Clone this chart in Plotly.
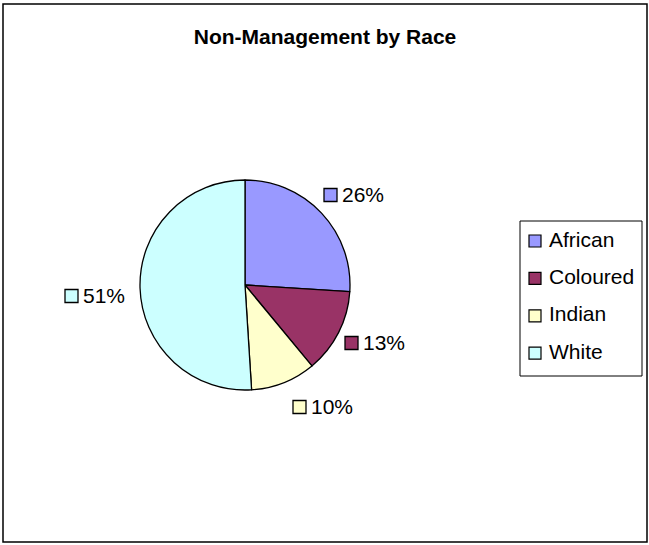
import plotly.graph_objects as go

# ---- data ----
categories = ["African", "Coloured", "Indian", "White"]
values = [26, 13, 10, 51]
colors = ["#9999FF", "#993366", "#FFFFCC", "#CCFFFF"]
title_text = "Non-Management by Race"

# ---- layout helpers (pixel -> paper) ----
W, H = 649, 545
def px(x):
    return x / W
def py(y):
    return 1 - y / H

FONT = "Liberation Sans, Arial, sans-serif"

# pie geometry
cx, cy, r = 245, 285, 105

fig = go.Figure()
fig.add_trace(go.Pie(
    labels=categories,
    values=values,
    sort=False,
    direction="clockwise",
    rotation=0,
    marker=dict(colors=colors, line=dict(color="black", width=1.3)),
    textinfo="none",
    hoverinfo="label+percent",
    showlegend=False,
    domain=dict(x=[px(cx - r), px(cx + r)], y=[py(cy + r), py(cy - r)]),
))

shapes = []
annotations = []

# outer chart border
shapes.append(dict(type="rect", xref="paper", yref="paper",
                   x0=px(3), x1=px(647), y0=py(542), y1=py(4),
                   line=dict(color="black", width=1.5)))

# data labels (square key + percent), label anchor positions are styling
total = sum(values)
label_pos = [(324, 195), (345, 343), (293, 407), (65, 296)]
sq = 13
for cat, v, col, (lx, ly) in zip(categories, values, colors, label_pos):
    pct = round(v / total * 100)
    shapes.append(dict(type="rect", xref="paper", yref="paper",
                       x0=px(lx), x1=px(lx + sq), y0=py(ly + sq / 2), y1=py(ly - sq / 2),
                       fillcolor=col, line=dict(color="black", width=1.3)))
    annotations.append(dict(xref="paper", yref="paper", x=px(lx + sq + 3), y=py(ly - 1),
                            xanchor="left", yanchor="middle", showarrow=False,
                            text=f"{pct}%", font=dict(family=FONT, size=21, color="black")))

# legend box
shapes.append(dict(type="rect", xref="paper", yref="paper",
                   x0=px(520), x1=px(642), y0=py(376), y1=py(221),
                   line=dict(color="black", width=1)))
lsq = 12
for i, (cat, col) in enumerate(zip(categories, colors)):
    yy = 241 + i * 37.4
    shapes.append(dict(type="rect", xref="paper", yref="paper",
                       x0=px(529), x1=px(529 + lsq), y0=py(yy + lsq / 2), y1=py(yy - lsq / 2),
                       fillcolor=col, line=dict(color="black", width=1.2)))
    annotations.append(dict(xref="paper", yref="paper", x=px(547), y=py(yy - 2),
                            xanchor="left", yanchor="middle", showarrow=False,
                            text=cat, font=dict(family=FONT, size=21, color="black")))

fig.update_layout(
    width=W, height=H,
    margin=dict(l=0, r=0, t=0, b=0),
    paper_bgcolor="white",
    plot_bgcolor="white",
    title=dict(text=f"<b>{title_text}</b>", x=px(325), y=py(37),
               xanchor="center", yanchor="middle",
               font=dict(family=FONT, size=21, color="black")),
    shapes=shapes,
    annotations=annotations,
)

fig.write_html("out.html",
               config={"displayModeBar": False},
               post_script="document.body.style.margin='0';document.body.style.overflow='hidden';")
